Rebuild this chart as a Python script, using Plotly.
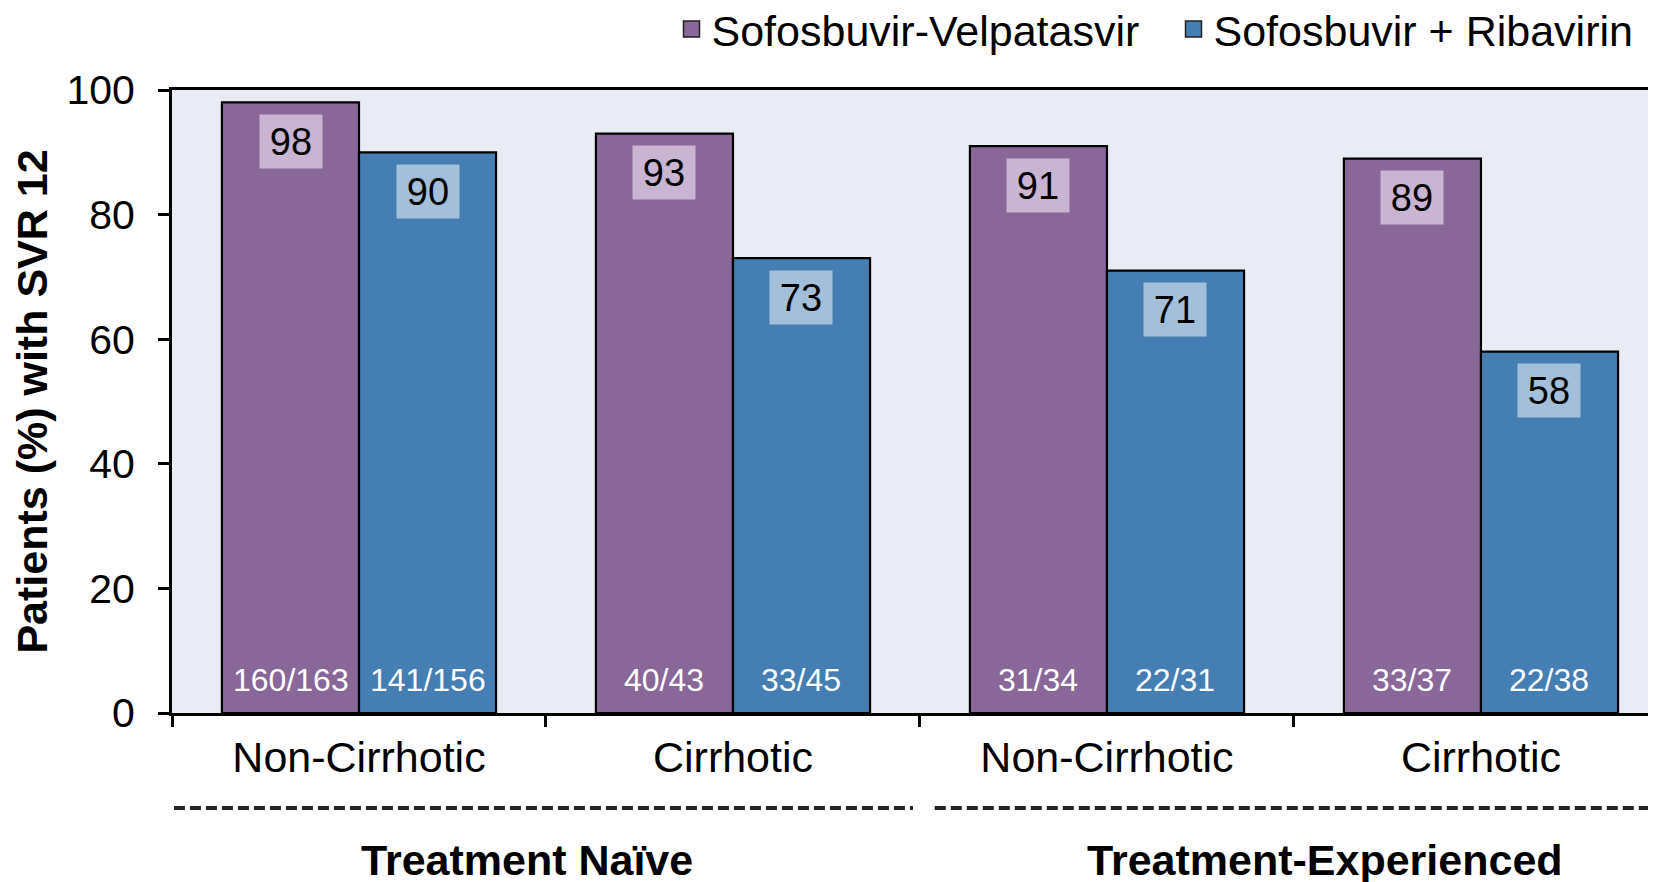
import plotly.graph_objects as go

categories = ["Non-Cirrhotic", "Cirrhotic", "Non-Cirrhotic ", "Cirrhotic "]
cat_labels = ["Non-Cirrhotic", "Cirrhotic", "Non-Cirrhotic", "Cirrhotic"]
series_names = ["Sofosbuvir-Velpatasvir", "Sofosbuvir + Ribavirin"]
sof_vel = [98, 93, 91, 89]
sof_rbv = [90, 73, 71, 58]
sof_vel_n = ["160/163", "40/43", "31/34", "33/37"]
sof_rbv_n = ["141/156", "33/45", "22/31", "22/38"]
groups = ["Treatment Naïve", "Treatment-Experienced"]
group_pos = [0.449, 2.583]
y_ticks = [0, 20, 40, 60, 80, 100]

FONT = "Liberation Sans, Arial, sans-serif"
PURPLE = "#8A6799"
BLUE = "#447EB3"
PURPLE_BOX = "#C9B4D2"
BLUE_BOX = "#A3BFDA"

fig = go.Figure()
series = [(sof_vel, sof_vel_n, PURPLE, PURPLE_BOX, series_names[0]),
          (sof_rbv, sof_rbv_n, BLUE, BLUE_BOX, series_names[1])]
for i, (vals, ns, col, boxcol, name) in enumerate(series):
    fig.add_trace(go.Bar(
        x=categories, y=vals, name=name, showlegend=False,
        marker=dict(color=col, line=dict(color="black", width=2.2)),
        offsetgroup=str(i), hoverinfo="x+y",
    ))
    # legend entry
    fig.add_trace(go.Scatter(
        x=[None], y=[None], mode="markers", name=name,
        marker=dict(symbol="square", size=16, color=col, line=dict(color="#222", width=1.5)),
    ))

annotations = []
offsets = [-0.5, 0.5]
for i, (vals, ns, col, boxcol, name) in enumerate(series):
    for c, v, n in zip(categories, vals, ns):
        annotations.append(dict(
            x=c, y=v, xref="x", yref="y", text=str(v), showarrow=False,
            xshift=offsets[i] * 137, yshift=-39, yanchor="middle",
            font=dict(family=FONT, size=38, color="black"),
            bgcolor=boxcol, width=58, height=49, borderpad=2,
        ))
        annotations.append(dict(
            x=c, y=0, xref="x", yref="y", text=n, showarrow=False,
            xshift=offsets[i] * 137, yshift=33, yanchor="middle",
            font=dict(family=FONT, size=32, color="white"),
        ))

for g, gx in zip(groups, group_pos):
    annotations.append(dict(
        x=gx, y=-0.236, xref="x", yref="paper", text="<b>" + g + "</b>",
        showarrow=False, yanchor="middle",
        font=dict(family=FONT, size=43, color="black"),
    ))

shapes = [
    dict(type="line", xref="paper", yref="paper", x0=0.0013, x1=0.4993, y0=-0.1525, y1=-0.1525,
         line=dict(color="#222", width=4, dash="11px,5px")),
    dict(type="line", xref="paper", yref="paper", x0=0.514, x1=1.0, y0=-0.1525, y1=-0.1525,
         line=dict(color="#222", width=4, dash="11px,5px")),
]

fig.update_layout(
    width=1648, height=874,
    margin=dict(l=164, r=0, t=82, b=169, pad=0, autoexpand=False),
    paper_bgcolor="white", plot_bgcolor="#E9ECF5",
    barmode="group", bargap=0.267, bargroupgap=0,
    font=dict(family=FONT, size=43, color="black"),
    showlegend=True,
    legend=dict(orientation="h", x=0.3366, xanchor="left", y=1.098, yanchor="middle",
                font=dict(family=FONT, size=43, color="black"),
                entrywidth=457, entrywidthmode="pixels",
                bgcolor="rgba(0,0,0,0)", itemclick=False),
    annotations=annotations, shapes=shapes,
    xaxis=dict(
        type="category", range=[-0.5, 3.468], tickson="boundaries",
        tickvals=categories, ticktext=cat_labels, automargin=False,
        ticks="outside", ticklen=11, tickwidth=2.5, tickcolor="black",
        showline=True, linecolor="black", linewidth=3, mirror=True,
        showgrid=False, zeroline=False,
        tickfont=dict(family=FONT, size=43, color="black"), ticklabelstandoff=4,
    ),
    yaxis=dict(
        range=[0, 100], tickvals=y_ticks, automargin=False,
        ticks="outside", ticklen=11, tickwidth=2.5, tickcolor="black",
        showline=True, linecolor="black", linewidth=3,
        showgrid=False, zeroline=False,
        tickfont=dict(family=FONT, size=41, color="black"), ticklabelstandoff=15,
        title=dict(text="<b>Patients (%) with SVR 12</b>", standoff=18,
                   font=dict(family=FONT, size=43, color="black")),
    ),
)

fig.write_html("out.html")
